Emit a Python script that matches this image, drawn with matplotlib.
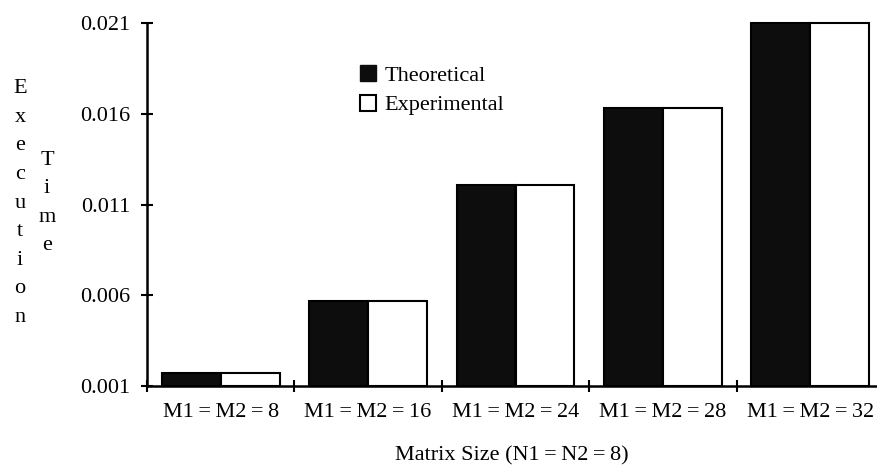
import matplotlib.pyplot as plt
import numpy as np

plt.rcParams['font.family'] = ['Liberation Serif', 'DejaVu Serif']

categories = ['M1\u2009=\u2009M2\u2009=\u20098', 'M1\u2009=\u2009M2\u2009=\u200916',
              'M1\u2009=\u2009M2\u2009=\u200924', 'M1\u2009=\u2009M2\u2009=\u200928',
              'M1\u2009=\u2009M2\u2009=\u200932']
theoretical = [0.0017, 0.0057, 0.0121, 0.0163, 0.0210]
experimental = [0.0017, 0.0057, 0.0121, 0.0163, 0.0210]
yticks = [0.001, 0.006, 0.011, 0.016, 0.021]

fig = plt.figure(figsize=(8.77, 4.76), dpi=100)
# axis spans the category ticks; the last category runs past the right edge
ax = fig.add_axes([147 / 877, 1 - 386 / 476, 737 / 877, 363 / 476])

x = np.arange(len(categories)) + 0.5
w = 0.4
base = 0.001
th = np.array(theoretical) - base
ex = np.array(experimental) - base

ax.bar(x - w / 2, th, w, bottom=base, color='#0d0d0d', edgecolor='black',
       linewidth=1.5, clip_on=False)
ax.bar(x + w / 2, ex, w, bottom=base, color='white', edgecolor='black',
       linewidth=1.5, clip_on=False)

ax.set_xlim(0, len(categories))
ax.set_ylim(0.001, 0.021)
ax.set_yticks(yticks)
ax.set_yticklabels([f'{v:.3f}' for v in yticks], fontsize=16)
ax.set_xticks(np.arange(len(categories) + 1))
ax.set_xticklabels([])
ax.set_xticks(x, minor=True)
ax.set_xticklabels(categories, minor=True, fontsize=16)
ax.tick_params(axis='x', which='minor', length=0, pad=12)
ax.tick_params(axis='both', which='major', direction='inout', length=8, width=1.5)
ax.tick_params(axis='y', pad=8)

for s in ['top', 'right']:
    ax.spines[s].set_visible(False)
for s in ['left', 'bottom']:
    ax.spines[s].set_linewidth(1.8)

fig.text(512 / 877, 1 - 456 / 476, 'Matrix Size (N1\u2009=\u2009N2\u2009=\u20098)',
         fontsize=16, ha='center', va='center')

fig.text(20 / 877, 1 - 203 / 476, '\n'.join('Execution'), fontsize=16,
         ha='center', va='center', linespacing=1.69)
fig.text(47 / 877, 1 - 203 / 476, '\n'.join('Time'), fontsize=16,
         ha='center', va='center', linespacing=1.69)

ax.plot([], [], 's', color='#0d0d0d', markersize=12, label='Theoretical')
ax.plot([], [], 's', markerfacecolor='white', markeredgecolor='black',
        markeredgewidth=1.5, markersize=11, label='Experimental')
ax.legend(loc='upper left', bbox_to_anchor=(357 / 877, 1 - 65 / 476),
          bbox_transform=fig.transFigure, frameon=False, fontsize=16,
          handlelength=1.0, handletextpad=0.25, labelspacing=0.42,
          borderpad=0, borderaxespad=0)

fig.savefig('out.png', dpi=100)
